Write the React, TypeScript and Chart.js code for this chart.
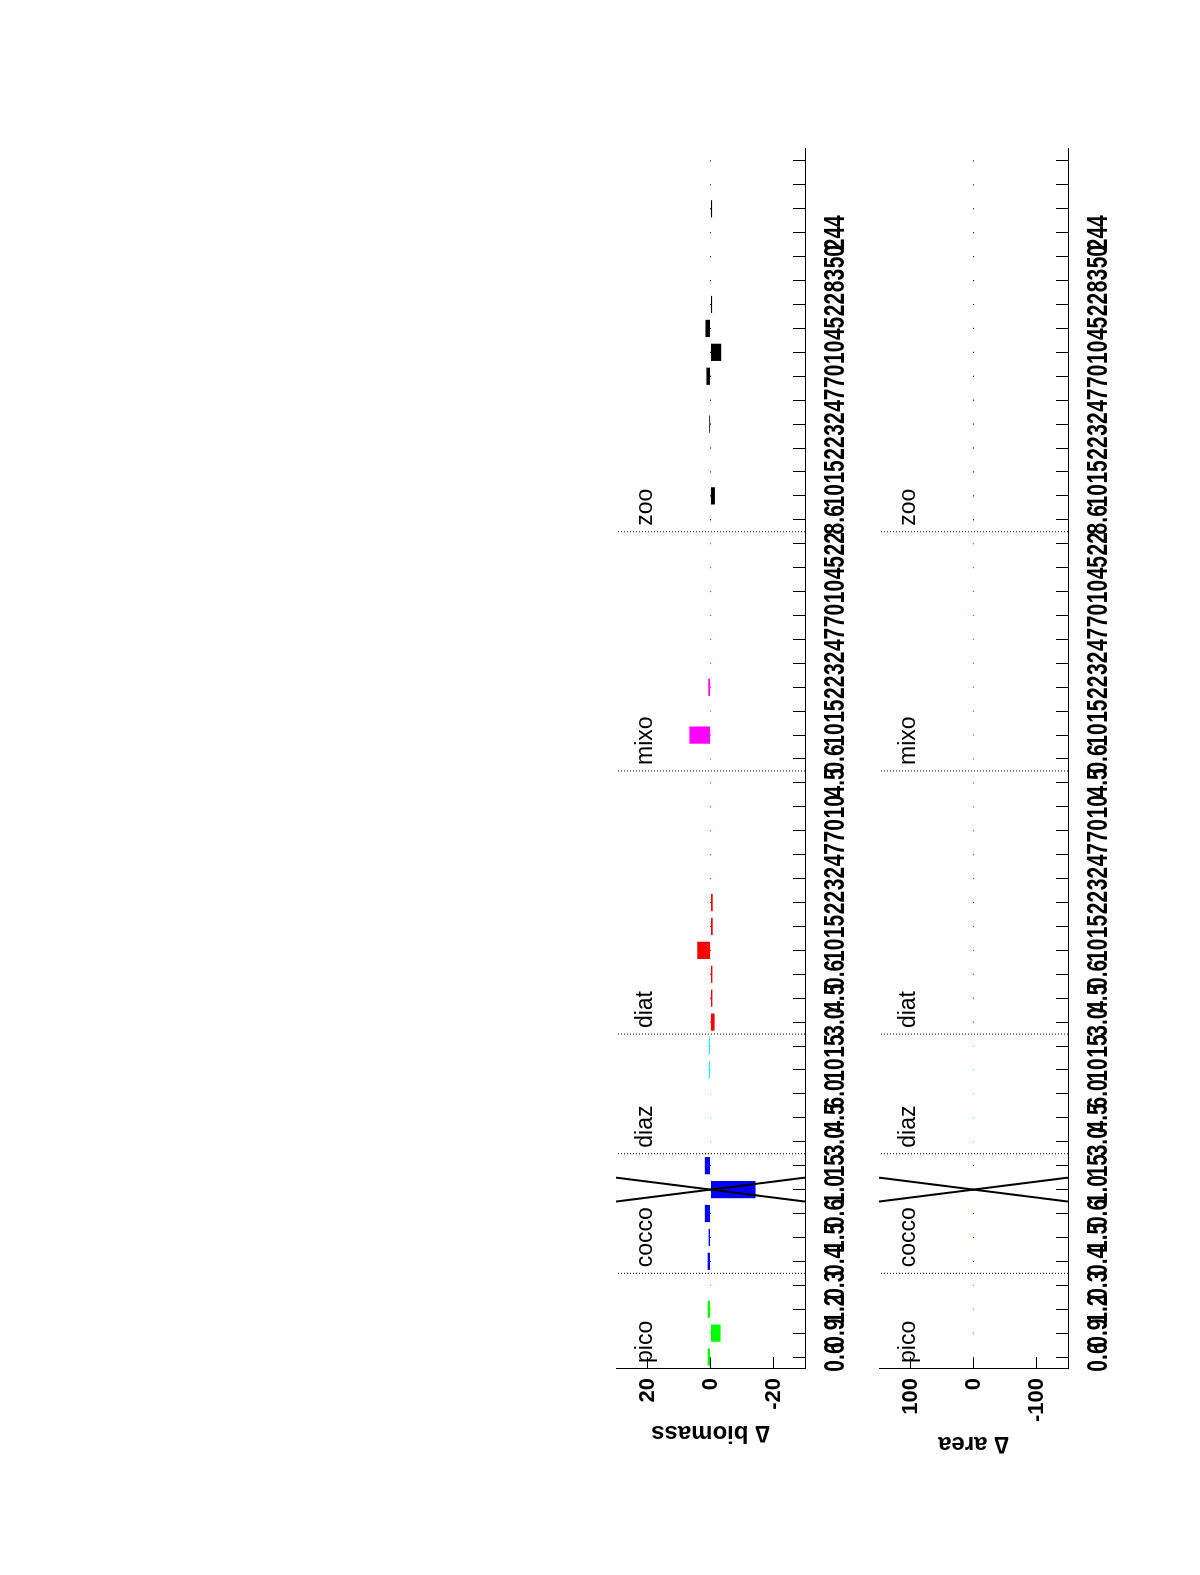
import React, { useEffect, useRef } from 'react';
import { Chart, registerables } from 'chart.js';

Chart.register(...registerables);

// ---- data ----
const groupNames = ['pico', 'cocco', 'diaz', 'diat', 'mixo', 'zoo'];
const groupColors = ['#00ff00', '#0000ff', '#00ffff', '#ff0000', '#ff00ff', '#000000'];

const picoBiomass = [0.9, -3.2, 0.9, 0];
const coccoBiomass = [0.9, 0.6, 1.8, -14.3, 1.8];
const diazBiomass = [0, 0, 0, 0.5, 0.5];
const diatBiomass = [-1.3, -0.6, -0.6, 4.2, -0.7, -0.7, 0, 0, 0, 0, 0];
const mixoBiomass = [0, 6.7, 0, 0.7, 0, 0, 0, 0, 0, 0];
const zooBiomass = [0, -1.4, 0, 0, 0.4, 0, 1.3, -3.4, 1.6, -0.5, 0, 0, 0, -0.5, 0, 0];

const picoArea = [0, 0, 0, 0];
const coccoArea = [0, 0, 0, 0, 0];
const diazArea = [0, 0, 0, 0, 0];
const diatArea = [0, 0, 0, 0, 0, 0, 0, 0, 0, 0, 0];
const mixoArea = [0, 0, 0, 0, 0, 0, 0, 0, 0, 0];
const zooArea = [0, 0, 0, 0, 0, 0, 0, 0, 0, 0, 0, 0, 0, 0, 0, 0];

const xTickLabels = [
  '0.6', '0.9', '1.2', '0.3', '0.4', '1.5', '0.6', '1.0', '15', '3.0',
  '4.5', '6.0', '10', '15', '3.0', '4.5', '0.6', '10', '15', '22',
  '32', '47', '70', '10', '4.5', '0.6', '10', '15', '22', '32',
  '47', '70', '10', '45', '22', '8.6', '10', '15', '22', '32',
  '47', '70', '10', '45', '22', '83', '50', '244', '', '', '',
];

const crossedItem = 8; // item marked with the black X
const biomassLimit = 30;
const areaLimit = 150;
const biomassTicks = [-20, 0, 20];
const areaTicks = [-100, 0, 100];

const FONT = '"Liberation Sans", Arial, Helvetica, sans-serif';

function buildConfig(series: number[][], limit: number, yTicks: number[], title: string, titlePad: number, padTop: number, xAxisHeight: number) {
  const bars: any[] = [];
  const barColors: string[] = [];
  const dots: any[] = [];
  const dotColors: string[] = [];
  const starts: number[] = [];
  let x = 1;
  series.forEach((vals, g) => {
    starts.push(x);
    vals.forEach((v) => {
      bars.push({ x, y: v });
      barColors.push(groupColors[g]);
      dots.push({ x, y: 0 });
      dotColors.push(groupColors[g]);
      x++;
    });
  });
  const n = x - 1;
  const seps = starts.slice(1).map((s) => s - 0.5);
  const tickValues = Array.from({ length: n }, (_, i) => i + 1);

  const datasets: any[] = [
    {
      type: 'line',
      data: dots,
      showLine: false,
      pointStyle: 'rect',
      pointRadius: 0.8,
      pointBorderWidth: 0,
      pointBackgroundColor: dotColors,
      order: 5,
    },
    {
      type: 'bar',
      data: bars,
      backgroundColor: barColors,
      borderWidth: 0,
      order: 4,
    },
    ...seps.map((s) => ({
      type: 'line',
      data: [{ x: s, y: -limit }, { x: s, y: limit }],
      borderColor: '#000',
      borderWidth: 1,
      borderDash: [1, 2],
      pointRadius: 0,
      order: 3,
    })),
    {
      type: 'line',
      data: [{ x: crossedItem + 0.5, y: limit }, { x: crossedItem - 0.5, y: -limit }],
      borderColor: '#000',
      borderWidth: 2,
      pointRadius: 0,
      order: 1,
    },
    {
      type: 'line',
      data: [{ x: crossedItem - 0.5, y: limit }, { x: crossedItem + 0.5, y: -limit }],
      borderColor: '#000',
      borderWidth: 2,
      pointRadius: 0,
      order: 1,
    },
  ];

  const textPlugin = {
    id: 'panelText',
    afterDraw(chart: any) {
      const ctx = chart.ctx;
      const xs = chart.scales.x;
      const ys = chart.scales.y;
      ctx.save();
      // group labels
      ctx.fillStyle = '#000';
      ctx.font = `23px ${FONT}`;
      ctx.textAlign = 'left';
      ctx.textBaseline = 'alphabetic';
      const yText = ys.getPixelForValue(0.62 * limit);
      starts.forEach((s, g) => {
        ctx.fillText(groupNames[g], xs.getPixelForValue(s - 0.25), yText);
      });
      // x tick labels (tall, narrow glyphs as in the print)
      ctx.font = `bold 21px ${FONT}`;
      ctx.textAlign = 'center';
      ctx.textBaseline = 'middle';
      xs.ticks.forEach((t: any) => {
        const lab = xTickLabels[t.value - 1];
        if (!lab) return;
        const px = xs.getPixelForValue(t.value);
        ctx.save();
        ctx.translate(px, xs.top + 30.5);
        ctx.scale(1, 1.4);
        ctx.fillText(lab, 0, 0);
        ctx.restore();
      });
      ctx.restore();
    },
  };

  return {
    type: 'bar',
    data: { datasets },
    plugins: [textPlugin],
    options: {
      animation: false,
      responsive: false,
      devicePixelRatio: 1,
      layout: { padding: { top: padTop, left: 0, right: 149, bottom: 0 } },
      plugins: { legend: { display: false }, tooltip: { enabled: false }, title: { display: false } },
      scales: {
        x: {
          type: 'linear',
          min: 0.5,
          max: n + 0.5,
          offset: false,
          grid: { display: true, drawOnChartArea: false, drawTicks: true, tickLength: -12, color: '#000', lineWidth: 1, offset: false },
          border: { display: true, color: '#000', width: 1 },
          ticks: { display: false, autoSkip: false },
          afterBuildTicks: (sc: any) => { sc.ticks = tickValues.map((v) => ({ value: v })); },
          afterFit: (sc: any) => { sc.height = xAxisHeight; },
        },
        y: {
          type: 'linear',
          min: -limit,
          max: limit,
          grid: { display: true, drawOnChartArea: false, drawTicks: true, tickLength: -12, color: '#000', lineWidth: 1 },
          border: { display: true, color: '#000', width: 1 },
          ticks: { font: { family: FONT, size: 22, weight: 'bold' }, color: '#000', padding: 21 },
          afterBuildTicks: (sc: any) => { sc.ticks = yTicks.map((v) => ({ value: v })); },
          afterFit: (sc: any) => { sc.width = 206; },
          title: {
            display: true,
            text: title,
            color: '#000',
            font: { family: FONT, size: 24, weight: 'bold' },
            padding: { top: titlePad, bottom: 0 },
          },
        },
      },
    },
  } as any;
}

function Panel({ makeConfig, width, height, top }: { makeConfig: () => any; width: number; height: number; top: number }) {
  const ref = useRef<HTMLCanvasElement>(null);
  useEffect(() => {
    const chart = new Chart(ref.current as HTMLCanvasElement, makeConfig());
    return () => chart.destroy();
  }, []);
  return (
    <canvas
      ref={ref}
      width={width}
      height={height}
      style={{ display: 'block', position: 'absolute', left: 0, top, width, height }}
    />
  );
}

export default function App() {
  const biomassSeries = [picoBiomass, coccoBiomass, diazBiomass, diatBiomass, mixoBiomass, zooBiomass];
  const areaSeries = [picoArea, coccoArea, diazArea, diatArea, mixoArea, zooArea];
  return (
    <div
      style={{
        position: 'fixed',
        left: 0,
        top: 0,
        width: 1575,
        height: 1200,
        background: '#fff',
        transformOrigin: '0 0',
        transform: 'translateY(1575px) rotate(-90deg)',
      }}
    >
      <Panel
        top={0}
        width={1575}
        height={860}
        makeConfig={() => buildConfig(biomassSeries, biomassLimit, biomassTicks, '∆ biomass', 127.6, 616, 55)}
      />
      <Panel
        top={840}
        width={1575}
        height={360}
        makeConfig={() => buildConfig(areaSeries, areaLimit, areaTicks, '∆ area', 116.6, 39, 132)}
      />
    </div>
  );
}
